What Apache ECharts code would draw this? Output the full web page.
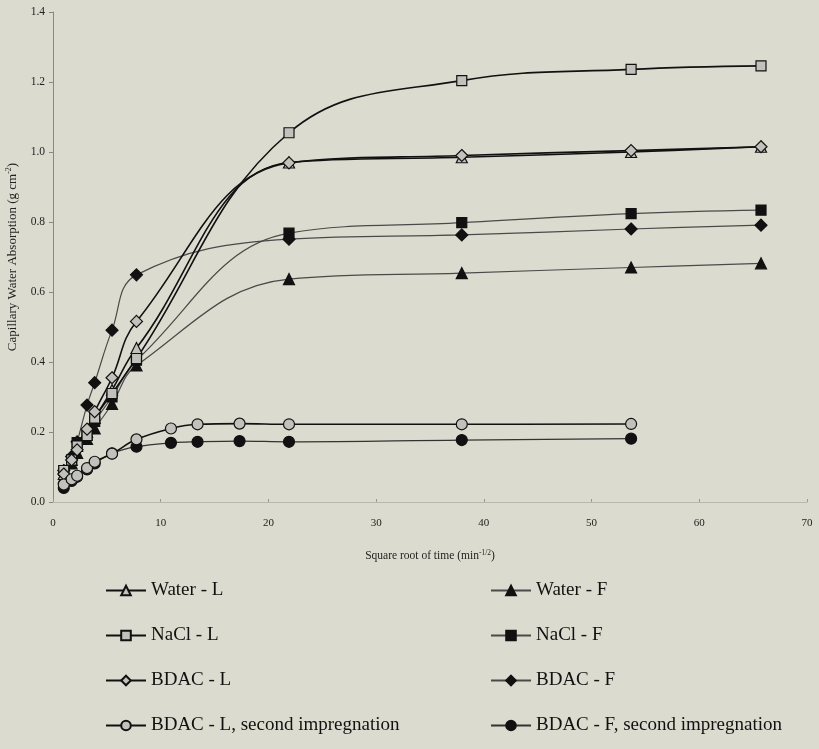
<!DOCTYPE html>
<html>
<head>
<meta charset="utf-8">
<script src="https://cdn.jsdelivr.net/npm/echarts@6/dist/echarts.min.js"></script>
<style>
html,body{margin:0;padding:0;background:#dcdbcf;}
#c{width:819px;height:749px;}
</style>
</head>
<body>
<div id="c"></div>
<script>
// sqrt(time) values, min^1/2
var xMain = [1, 1.73, 2.24, 3.16, 3.87, 5.48, 7.75, 21.91, 37.95, 53.67, 65.73];
var xSecond = [1, 1.73, 2.24, 3.16, 3.87, 5.48, 7.75, 10.95, 13.42, 17.32, 21.91, 37.95, 53.67];

var waterL = [0.08, 0.12, 0.16, 0.20, 0.24, 0.32, 0.44, 0.970, 0.985, 1.000, 1.015];
var waterF = [0.07, 0.11, 0.14, 0.18, 0.21, 0.28, 0.39, 0.637, 0.654, 0.670, 0.682];
var naclL  = [0.09, 0.12, 0.16, 0.19, 0.24, 0.31, 0.41, 1.055, 1.204, 1.236, 1.246];
var naclF  = [0.09, 0.12, 0.17, 0.19, 0.23, 0.30, 0.405, 0.768, 0.798, 0.824, 0.834];
var bdacL  = [0.08, 0.12, 0.149, 0.208, 0.258, 0.355, 0.516, 0.969, 0.990, 1.004, 1.015];
var bdacF  = [0.09, 0.13, 0.172, 0.277, 0.341, 0.491, 0.649, 0.751, 0.763, 0.780, 0.791];
var bdacL2 = [0.05, 0.065, 0.075, 0.097, 0.115, 0.138, 0.179, 0.210, 0.222, 0.224, 0.222, 0.222, 0.223];
var bdacF2 = [0.04, 0.060, 0.072, 0.093, 0.110, 0.139, 0.158, 0.169, 0.172, 0.174, 0.172, 0.177, 0.181];

var yTicks = [0, 0.2, 0.4, 0.6, 0.8, 1.0, 1.2, 1.4];
var xTicks = [0, 10, 20, 30, 40, 50, 60, 70];

var names = ['Water - L', 'Water - F', 'NaCl - L', 'NaCl - F', 'BDAC - L', 'BDAC - F',
             'BDAC - L, second impregnation', 'BDAC - F, second impregnation'];

function pairs(xs, ys) { return ys.map(function (v, i) { return [xs[i], v]; }); }

var FONT = 'Liberation Serif';

function mk(name, xs, ys, symbol, fill, lineColor, lw, size, z) {
  return {
    name: name, type: 'line', smooth: 0.4,
    data: pairs(xs, ys),
    symbol: symbol, symbolSize: size,
    showAllSymbol: true,
    lineStyle: { color: lineColor, width: lw },
    itemStyle: { color: fill, borderColor: '#111', borderWidth: 1.2 },
    z: z,
    emphasis: { disabled: true }
  };
}

var series = [
  mk(names[1], xMain, waterF, 'triangle', '#111', '#4a4a4a', 1.2, 11, 2),
  mk(names[3], xMain, naclF, 'rect', '#111', '#4a4a4a', 1.2, 10, 2),
  mk(names[5], xMain, bdacF, 'diamond', '#111', '#4a4a4a', 1.2, 12, 2),
  mk(names[7], xSecond, bdacF2, 'circle', '#111', '#333', 1.2, 11, 2),
  mk(names[0], xMain, waterL, 'triangle', '#c2c2bc', '#111', 1.6, 11, 3),
  mk(names[2], xMain, naclL, 'rect', '#c2c2bc', '#111', 1.6, 10, 3),
  mk(names[4], xMain, bdacL, 'diamond', '#c2c2bc', '#111', 1.6, 12, 3),
  mk(names[6], xSecond, bdacL2, 'circle', '#c2c2bc', '#111', 1.6, 11, 3)
];

var chart = echarts.init(document.getElementById('c'));
chart.setOption({
  backgroundColor: '#dcdbcf',
  animation: false,
  grid: { left: 53, right: 12, top: 12, bottom: 247, containLabel: false, outerBoundsMode: 'none' },
  xAxis: {
    type: 'value', min: 0, max: 70, interval: 10,
    name: '{a|Square root of time (min}{s|-1/2}{a|)}',
    nameLocation: 'middle', nameGap: 47,
    nameTextStyle: {
      rich: {
        a: { fontFamily: FONT, fontSize: 11.5, color: '#222' },
        s: { fontFamily: FONT, fontSize: 7.5, color: '#222', verticalAlign: 'top', padding: [0, 0, 6, 0] }
      }
    },
    axisLine: { show: true, onZero: false, lineStyle: { color: '#b8b8b0', width: 1 } },
    axisTick: { show: true, inside: true, length: 3, lineStyle: { color: '#999' } },
    axisLabel: { fontFamily: FONT, fontSize: 11, color: '#222', margin: 16 },
    splitLine: { show: false }
  },
  yAxis: {
    type: 'value', min: 0, max: 1.4, interval: 0.2,
    name: '{a|Capillary Water Absorption (g cm}{s|-2}{a|)}',
    nameLocation: 'middle', nameGap: 33, nameRotate: 90,
    nameTextStyle: {
      rich: {
        a: { fontFamily: FONT, fontSize: 13, color: '#222' },
        s: { fontFamily: FONT, fontSize: 8, color: '#222', verticalAlign: 'top', padding: [0, 0, 7, 0] }
      }
    },
    axisLine: { show: true, lineStyle: { color: '#888', width: 1 } },
    axisTick: { show: true, length: 4, lineStyle: { color: '#888' } },
    axisLabel: { fontFamily: FONT, fontSize: 11.5, color: '#222', margin: 8,
      formatter: function (v) { return v.toFixed(1); } },
    splitLine: { show: false }
  },
  legend: [
    {
      data: [names[0], names[2], names[4], names[6]],
      orient: 'vertical', left: 100, top: 576, itemGap: 26,
      itemWidth: 40, itemHeight: 12,
      textStyle: { fontFamily: FONT, fontSize: 19, color: '#111' },
      selectedMode: false
    },
    {
      data: [names[1], names[3], names[5], names[7]],
      orient: 'vertical', left: 485, top: 576, itemGap: 26,
      itemWidth: 40, itemHeight: 12,
      textStyle: { fontFamily: FONT, fontSize: 19, color: '#111' },
      selectedMode: false
    }
  ],
  series: series
});
</script>
</body>
</html>
